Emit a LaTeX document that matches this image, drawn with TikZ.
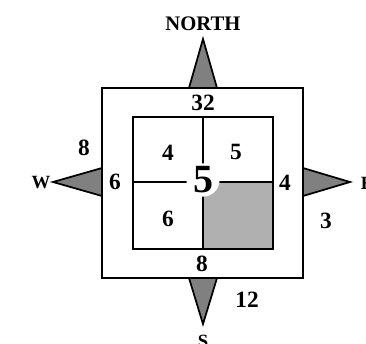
\documentclass[tikz,border=0pt]{standalone}
\usepackage{fontspec}
\setmainfont{Liberation Serif}
\begin{document}
\begin{tikzpicture}[x=0.75pt,y=-0.75pt,
  box/.style={draw=black,line width=1.6pt},
  arrowtri/.style={draw=black,fill=black!50,line width=1.3pt,line join=miter},
  num/.style={font=\fontsize{17.5}{17.5}\selectfont\bfseries,inner sep=0pt},
  dir/.style={font=\fontsize{14}{14}\selectfont\bfseries,inner sep=0pt}]
\useasboundingbox (0,0) rectangle (366,343);
% shaded cell
\fill[black!31] (203,182) rectangle (273,249);
% squares
\draw[box] (102,88) rectangle (303,278);
\draw[box] (133,117) rectangle (273,249);
\draw[box] (203,117) -- (203,249);
\draw[box] (133,182) -- (273,182);
% triangles
\draw[arrowtri] (189,88) -- (203,39) -- (217,88) -- cycle;
\draw[arrowtri] (189,278) -- (203,324) -- (217,278) -- cycle;
\draw[arrowtri] (102,168) -- (53,182) -- (102,196) -- cycle;
\draw[arrowtri] (303,168) -- (350,182) -- (303,196) -- cycle;
% labels
\node[font=\fontsize{15.5}{15.5}\selectfont\bfseries,inner sep=0pt] (north) at (203,24) {NORTH};
\node[dir] (w) at (41,183) {W};
\node[dir] (e) at (367,183) {E};
\node[dir] (s) at (203,341) {S};
\node[num] (n32) at (203,103) {32};
\node[num] (n8a) at (84,148) {8};
\node[num] (n6a) at (115,182) {6};
\node[num] (c4) at (168,153) {4};
\node[num] (c5) at (236,152) {5};
\node[num] (c6) at (168,219) {6};
\node[num] (n4) at (285,183) {4};
\node[num] (n3) at (326,221) {3};
\node[num] (n8b) at (202,264) {8};
\node[num] (n12) at (247,300) {12};
\node[fill=white,circle,inner sep=0pt,font=\fontsize{30}{30}\selectfont\bfseries] (big5) at (203,180) {5};
\end{tikzpicture}
\end{document}
